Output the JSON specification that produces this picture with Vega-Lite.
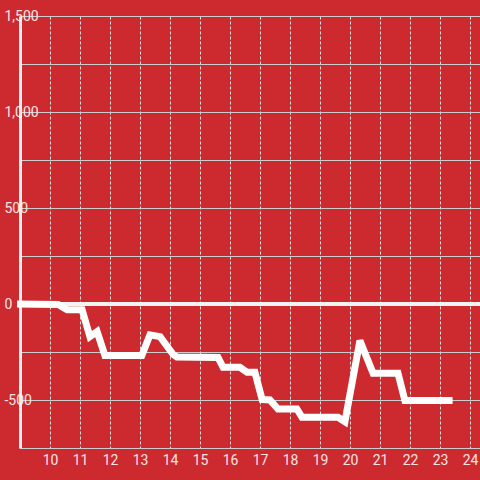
{
  "$schema": "https://vega.github.io/schema/vega-lite/v6.json",
  "width": 460,
  "height": 432,
  "autosize": {"type": "none"},
  "padding": {"left": 20, "top": 16, "right": 0, "bottom": 32},
  "background": "#cd2a30",
  "config": {
    "view": {"stroke": null},
    "font": "Roboto",
    "axis": {"labelFont": "Roboto", "labelFontSize": 14, "labelColor": "#f6e4e4", "ticks": false, "title": null, "labelOverlap": false}
  },
  "data": {"values": [
    {"t": 8.9, "v": 0}, {"t": 10.27, "v": -3}, {"t": 10.57, "v": -30}, {"t": 11.07, "v": -30},
    {"t": 11.33, "v": -170}, {"t": 11.57, "v": -144}, {"t": 11.83, "v": -268}, {"t": 13.06, "v": -268},
    {"t": 13.33, "v": -161}, {"t": 13.67, "v": -170}, {"t": 14.1, "v": -262}, {"t": 14.23, "v": -276},
    {"t": 15.6, "v": -278}, {"t": 15.77, "v": -330}, {"t": 16.33, "v": -330}, {"t": 16.57, "v": -356},
    {"t": 16.83, "v": -356}, {"t": 17.07, "v": -497}, {"t": 17.33, "v": -500}, {"t": 17.6, "v": -547},
    {"t": 18.23, "v": -547}, {"t": 18.4, "v": -590}, {"t": 19.6, "v": -590}, {"t": 19.83, "v": -613},
    {"t": 20.33, "v": -191}, {"t": 20.77, "v": -361}, {"t": 21.6, "v": -361}, {"t": 21.83, "v": -503},
    {"t": 23.42, "v": -503}
  ]},
  "layer": [
    {
      "mark": {"type": "rule", "color": "#f4f4f4", "strokeWidth": 3},
      "encoding": {
        "x": {"datum": 8.9, "type": "quantitative", "scale": {"domain": [9, 24.333], "nice": false, "zero": false}},
        "x2": {"datum": 24.333},
        "y": {"datum": 0, "type": "quantitative"}
      }
    },
    {
      "mark": {"type": "line", "color": "#ffffff", "strokeWidth": 7, "strokeJoin": "miter", "strokeMiterLimit": 2, "strokeCap": "butt", "clip": false},
      "encoding": {
        "x": {
          "field": "t", "type": "quantitative",
          "scale": {"domain": [9, 24.333], "nice": false, "zero": false},
          "axis": {
            "values": [10, 11, 12, 13, 14, 15, 16, 17, 18, 19, 20, 21, 22, 23, 24],
            "tickCount": 20,
            "grid": true, "gridColor": "#dcdcdc", "gridDash": [3, 2], "gridWidth": 1,
            "domain": true, "domainColor": "#cccccc", "domainWidth": 1,
            "labelPadding": 5, "labelFlush": false, "labelOverlap": false
          }
        },
        "y": {
          "field": "v", "type": "quantitative",
          "scale": {"domain": [-750, 1500], "nice": false, "zero": false},
          "axis": {
            "values": [-750, -500, -250, 0, 250, 500, 750, 1000, 1250, 1500],
            "tickCount": 12,
            "labelExpr": "datum.value % 500 === 0 ? replace(format(datum.value, ','), '\u2212', '-') : ''",
            "grid": true, "gridColor": "#cccccc", "gridWidth": 1,
            "domain": true, "domainColor": "#eeeeee", "domainWidth": 3,
            "labelAlign": "left", "labelPadding": 16, "labelBaseline": "middle", "labelFlush": false, "labelOverlap": false
          }
        }
      }
    }
  ]
}
